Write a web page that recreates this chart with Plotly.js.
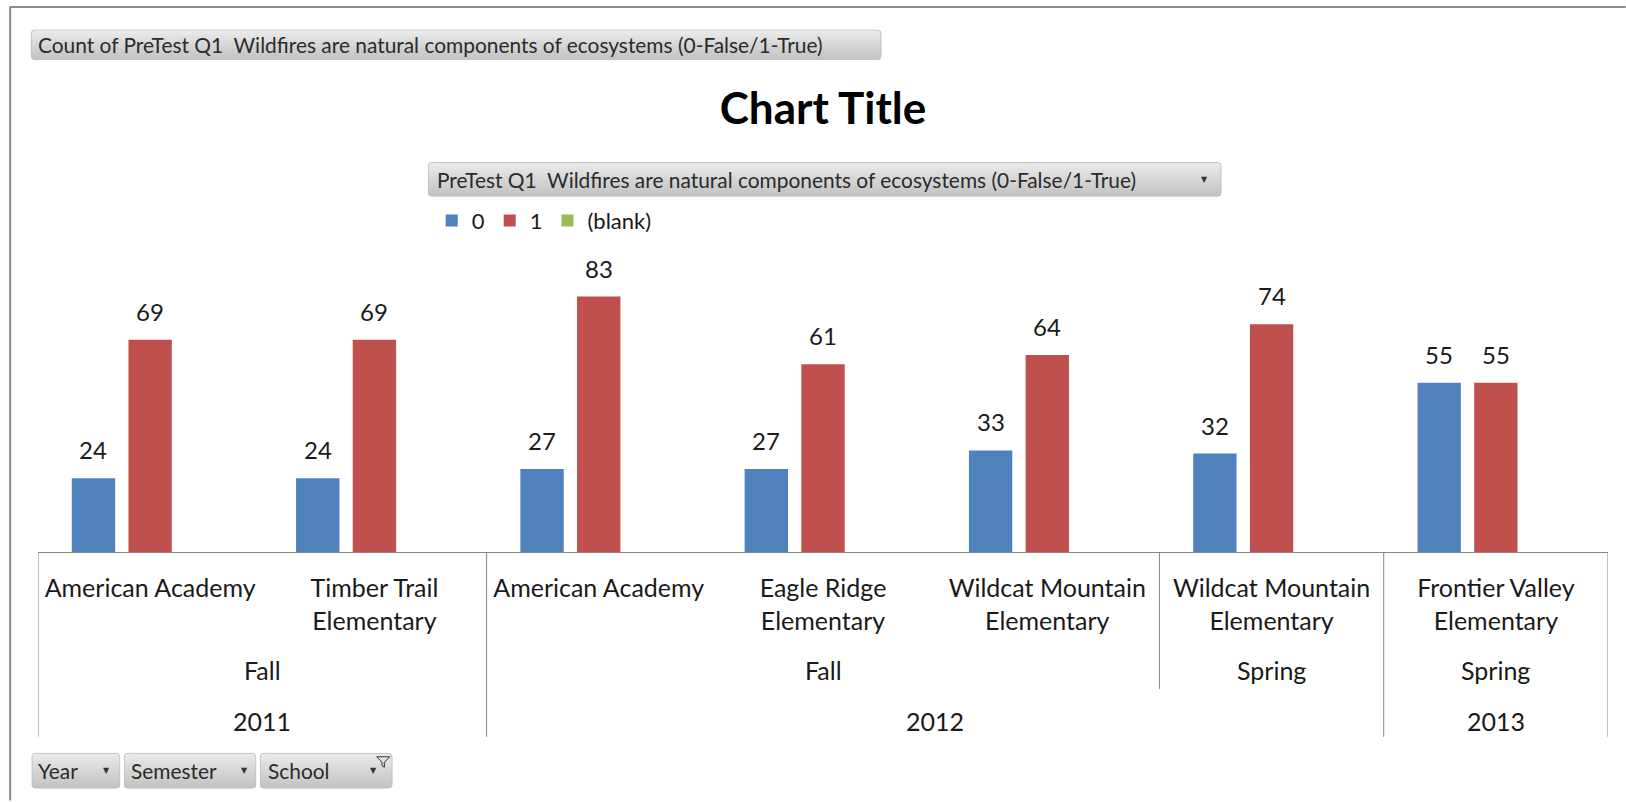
<!DOCTYPE html>
<html>
<head>
<meta charset="utf-8">
<script src="https://cdn.plot.ly/plotly-3.0.1.min.js"></script>
<style>html,body{margin:0;padding:0;background:#fff;}#chart{width:1626px;height:802px;}</style>
</head>
<body>
<div id="chart"></div>
<script>
// ---------- data ----------
const years     = ['2011', '2011', '2012', '2012', '2012', '2012', '2013'];
const semesters = ['Fall', 'Fall', 'Fall', 'Fall', 'Fall', 'Spring', 'Spring'];
const schools   = ['American Academy', 'Timber Trail Elementary', 'American Academy',
                   'Eagle Ridge Elementary', 'Wildcat Mountain Elementary',
                   'Wildcat Mountain Elementary', 'Frontier Valley Elementary'];
const count0     = [24, 24, 27, 27, 33, 32, 55];
const count1     = [69, 69, 83, 61, 64, 74, 55];
const countBlank = [null, null, null, null, null, null, null];
const seriesNames = ['0', '1', '(blank)'];
const chartTitle = 'Chart Title';
const valueFieldLabel = 'Count of PreTest Q1\u00a0 Wildfires are natural components of ecosystems (0-False/1-True)';
const seriesFieldLabel = 'PreTest Q1\u00a0 Wildfires are natural components of ecosystems (0-False/1-True)';
const axisFieldLabels = ['Year', 'Semester', 'School'];

// ---------- geometry helpers ----------
const W = 1626, H = 802;
const ML = 38.3, MR = 17.7, MT = 274.5, MB = 249.5;
const PW = W - ML - MR, PH = H - MT - MB;
const X = px => (px - ML) / PW;
const Y = py => (H - MB - py) / PH;

const FONT = 'Lato, "Open Sans", sans-serif';
const TXT = '#1a1a1a';
const colors = ['#4F81BD', '#C0504D', '#9BBB59'];
const BARGAP = 0.242, BARGROUPGAP = 0.235;

const keys = schools.map((s, i) => years[i] + ' ' + semesters[i] + ' ' + s);
const tickText = schools.map(s => s.replace(' Elementary', '<br>Elementary'));

const seriesValues = [count0, count1, countBlank];
const traces = seriesValues.map((vals, k) => ({
  type: 'bar',
  name: seriesNames[k],
  x: keys,
  y: vals,
  marker: {color: colors[k]},
  cliponaxis: false,
  hoverinfo: 'x+y+name'
}));

const annotations = [];
const shapes = [];
const images = [];

// data labels above each bar (placed on the bar's value through the axes)
const slotPx = (PW / keys.length) * (1 - BARGAP) / seriesValues.length;
seriesValues.forEach((vals, k) => vals.forEach((v, i) => {
  if (v === null || v === undefined) return;
  annotations.push({xref: 'x', yref: 'y', x: keys[i], y: v, text: String(v),
    showarrow: false, xanchor: 'center', yanchor: 'bottom',
    xshift: (k - (seriesValues.length - 1) / 2) * slotPx, yshift: 12,
    font: {family: FONT, size: 24, color: TXT}});
}));

// group runs of consecutive equal labels
function runs(labels) {
  const out = [];
  let start = 0;
  for (let i = 1; i <= labels.length; i++) {
    if (i === labels.length || labels[i] !== labels[start]) {
      out.push({label: labels[start], start: start, end: i - 1});
      start = i;
    }
  }
  return out;
}
const semKeys = years.map((y, i) => y + '|' + semesters[i]);
const semRuns = runs(semKeys).map(r => ({...r, label: r.label.split('|')[1]}));
const yearRuns = runs(years);

semRuns.forEach(r => annotations.push({
  xref: 'x', yref: 'paper', x: (r.start + r.end) / 2, y: Y(671),
  text: r.label, showarrow: false, yanchor: 'middle', xanchor: 'center',
  font: {family: FONT, size: 25, color: TXT}
}));
yearRuns.forEach(r => annotations.push({
  xref: 'x', yref: 'paper', x: (r.start + r.end) / 2, y: Y(722),
  text: r.label, showarrow: false, yanchor: 'middle', xanchor: 'center',
  font: {family: FONT, size: 25, color: TXT}
}));

// separators of the hierarchical axis
const lineStyle = {color: '#868686', width: 1};
const yearBounds = [-0.5].concat(yearRuns.map(r => r.end + 0.5));
yearBounds.forEach(b => shapes.push({type: 'line', xref: 'x', yref: 'paper',
  x0: b, x1: b, y0: 0, y1: Y(738), line: lineStyle}));
semRuns.forEach(r => {
  const b = r.end + 0.5;
  if (!yearBounds.includes(b)) shapes.push({type: 'line', xref: 'x', yref: 'paper',
    x0: b, x1: b, y0: 0, y1: Y(690), line: lineStyle});
});

// outer frame (top and left)
shapes.push({type: 'line', xref: 'paper', yref: 'paper', x0: X(10), x1: X(1626), y0: Y(5.5), y1: Y(5.5), line: {color: '#8a8a8a', width: 2}});
shapes.push({type: 'line', xref: 'paper', yref: 'paper', x0: X(10.5), x1: X(10.5), y0: Y(5), y1: Y(802), line: {color: '#8a8a8a', width: 2}});

// pivot field buttons
function btnSVG(w, h) {
  return "<svg xmlns='http://www.w3.org/2000/svg' width='" + w + "' height='" + h + "' viewBox='0 0 " + w + " " + h + "' preserveAspectRatio='none'>" +
    "<defs><linearGradient id='g' x1='0' y1='0' x2='0' y2='1'>" +
    "<stop offset='0' stop-color='#ececec'/><stop offset='0.45' stop-color='#d8d8d8'/><stop offset='1' stop-color='#c2c2c2'/>" +
    "</linearGradient></defs>" +
    "<rect x='0.5' y='0.5' width='" + (w - 1) + "' height='" + (h - 1) + "' rx='4' ry='4' fill='url(#g)' stroke='#bdbdbd' stroke-width='1'/></svg>";
}
function addButton(b) {
  const w = b.x1 - b.x0, h = b.y1 - b.y0;
  images.push({
    source: 'data:image/svg+xml;charset=utf-8,' + encodeURIComponent(btnSVG(Math.round(w), Math.round(h))),
    xref: 'paper', yref: 'paper', x: X(b.x0), y: Y(b.y0),
    sizex: w / PW, sizey: h / PH, xanchor: 'left', yanchor: 'top',
    sizing: 'stretch', layer: 'above'
  });
  annotations.push({xref: 'paper', yref: 'paper', x: X(b.tx), y: Y((b.y0 + b.y1) / 2),
    text: b.text, showarrow: false, xanchor: 'left', yanchor: 'middle',
    font: {family: FONT, size: b.fs || 20.9, color: '#2b2b2b'}});
  if (b.arrow) annotations.push({xref: 'paper', yref: 'paper', x: X(b.arrow), y: Y((b.y0 + b.y1) / 2),
    text: '\u25BC', showarrow: false, xanchor: 'center', yanchor: 'middle',
    font: {family: 'DejaVu Sans', size: 8, color: '#333'}});
}
addButton({x0: 31, y0: 28, x1: 882, y1: 59, text: valueFieldLabel, tx: 36});
addButton({x0: 428, y0: 161, x1: 1222, y1: 196, text: seriesFieldLabel, tx: 435, arrow: 1205});
addButton({x0: 31.7, y0: 754, x1: 120.7, y1: 790, text: axisFieldLabels[0], tx: 36, arrow: 106.7});
addButton({x0: 124, y0: 754, x1: 256.7, y1: 790, text: axisFieldLabels[1], tx: 129.3, arrow: 245});
addButton({x0: 260, y0: 754, x1: 393, y1: 790, text: axisFieldLabels[2], tx: 266.7, arrow: 374});
// funnel icon on the School button
function pathPx(pts) {
  return 'M' + pts.map(p => X(p[0]).toFixed(5) + ',' + Y(p[1]).toFixed(5)).join('L') + 'Z';
}
shapes.push({type: 'path', xref: 'paper', yref: 'paper',
  path: pathPx([[377, 758], [390, 758], [384.7, 763.5], [384.7, 768.5], [382.3, 767], [382.3, 763.5]]),
  line: {color: '#333', width: 1}, fillcolor: 'rgba(0,0,0,0)'});

const layout = {
  width: W, height: H,
  margin: {l: ML, r: MR, t: MT, b: MB, pad: 0},
  paper_bgcolor: '#ffffff', plot_bgcolor: 'rgba(0,0,0,0)',
  font: {family: FONT, color: TXT},
  title: {text: chartTitle, xref: 'paper', x: 0.5, xanchor: 'center',
          yref: 'container', y: 1 - 109 / H, yanchor: 'middle',
          font: {family: FONT, size: 44, color: '#000', weight: 'bold'}},
  barmode: 'group', bargap: BARGAP, bargroupgap: BARGROUPGAP,
  showlegend: true,
  legend: {orientation: 'h', xref: 'paper', yref: 'paper', x: X(432), y: Y(220),
           xanchor: 'left', yanchor: 'middle', font: {family: FONT, size: 22, color: TXT},
           bgcolor: 'rgba(0,0,0,0)', traceorder: 'normal'},
  xaxis: {type: 'category', tickvals: keys, ticktext: tickText, showline: true,
          linecolor: '#868686', linewidth: 1, ticks: '', showgrid: false, zeroline: false,
          tickfont: {family: FONT, size: 25, color: TXT}, ticklabelstandoff: 14,
          range: [-0.5, keys.length - 0.5], fixedrange: true, automargin: false},
  yaxis: {range: [0, 90], visible: false, showgrid: false, zeroline: false, fixedrange: true},
  annotations: annotations, shapes: shapes, images: images
};

Plotly.newPlot('chart', traces, layout, {displayModeBar: false, responsive: false});
</script>
</body>
</html>
